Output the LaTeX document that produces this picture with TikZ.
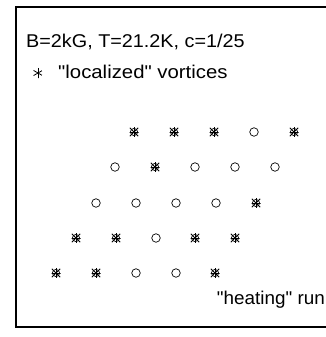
\documentclass[tikz,border=0pt]{standalone}
\usepackage{fontspec}
\setmainfont{Liberation Sans}[Ligatures=TeXOff]
\begin{document}
\begin{tikzpicture}[x=1pt,y=-1pt,
  lbl/.style={inner sep=0pt, font=\fontsize{18.5}{18.5}\selectfont},
  vfree/.style={circle, draw, line width=0.7pt, minimum size=8.5pt, inner sep=0pt},
  vloc/.style={rectangle, minimum size=9pt, inner sep=0pt,
    path picture={\draw[line width=0.7pt] (path picture bounding box.center) circle (3.6pt);
      \foreach \a in {0,45,90,135}{\draw[line width=1pt] (path picture bounding box.center) ++(\a:6pt) -- ++(\a+180:12pt);}}},
  legmark/.style={circle, minimum size=11pt, inner sep=0pt,
    path picture={\foreach \a in {30,90,150}{\draw[line width=0.8pt] (path picture bounding box.center) ++(\a:5.5pt) -- ++(\a+180:11pt);}}}]
\useasboundingbox (0,0) rectangle (326,337);
\draw[line width=1.4pt] (335,7) -- (16,7) -- (16,327) -- (335,327);
\node[lbl, anchor=west] (title) at (26,42) {\scalebox{1.07}[1]{B=2kG, T=21.2K, c=1/25}};
\node[legmark] (legm) at (38,73) {};
\node[lbl, anchor=west] (legt) at (58,72) {\scalebox{1.1}[1]{"localized" vortices}};
\node[lbl, anchor=east] (run) at (325,300) {\scalebox{1.02}[1]{"heating" run}};
% row 1
\node[vloc]  (a1) at (134,132) {};
\node[vloc]  (a2) at (174,132) {};
\node[vloc]  (a3) at (214,132) {};
\node[vfree] (a4) at (254,132) {};
\node[vloc]  (a5) at (294,132) {};
% row 2
\node[vfree] (b1) at (115,167) {};
\node[vloc]  (b2) at (155,167) {};
\node[vfree] (b3) at (195,167) {};
\node[vfree] (b4) at (235,167) {};
\node[vfree] (b5) at (275,167) {};
% row 3
\node[vfree] (c1) at (96,203) {};
\node[vfree] (c2) at (136,203) {};
\node[vfree] (c3) at (176,203) {};
\node[vfree] (c4) at (216,203) {};
\node[vloc]  (c5) at (256,203) {};
% row 4
\node[vloc]  (d1) at (76,238) {};
\node[vloc]  (d2) at (116,238) {};
\node[vfree] (d3) at (156,238) {};
\node[vloc]  (d4) at (195,238) {};
\node[vloc]  (d5) at (235,238) {};
% row 5
\node[vloc]  (e1) at (56,273) {};
\node[vloc]  (e2) at (96,273) {};
\node[vfree] (e3) at (136,273) {};
\node[vfree] (e4) at (176,273) {};
\node[vloc]  (e5) at (215,273) {};
\end{tikzpicture}
\end{document}
